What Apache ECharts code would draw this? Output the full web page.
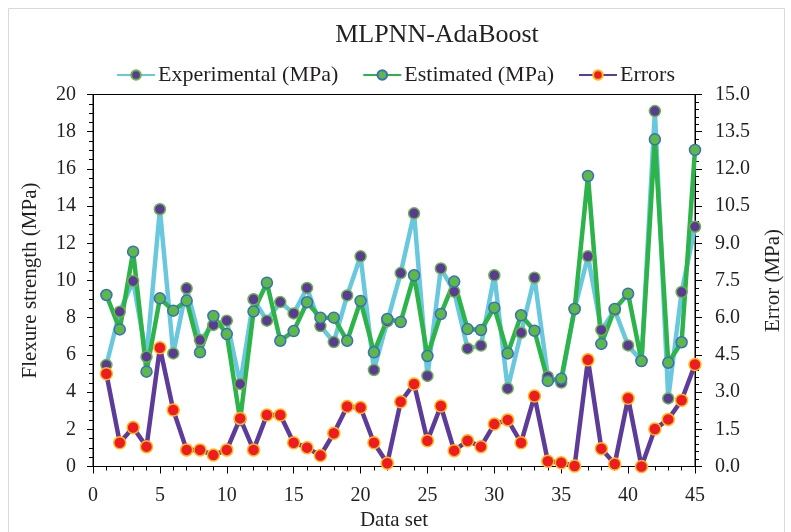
<!DOCTYPE html>
<html>
<head>
<meta charset="utf-8">
<script src="https://cdn.jsdelivr.net/npm/echarts@6/dist/echarts.min.js"></script>
<style>
  html, body { margin: 0; padding: 0; background: #fff; }
  #chart { width: 791px; height: 532px; }
</style>
</head>
<body>
<div id="chart"></div>
<script>
// Sample indices along the x axis
const dataSet = [1, 2, 3, 4, 5, 6, 7, 8, 9, 10, 11, 12, 13, 14, 15, 16, 17, 18, 19, 20,
  21, 22, 23, 24, 25, 26, 27, 28, 29, 30, 31, 32, 33, 34, 35, 36, 37, 38, 39, 40,
  41, 42, 43, 44, 45];

// Measured flexure strength (MPa)
const experimental = [5.46, 8.32, 9.97, 5.90, 13.83, 6.08, 9.58, 6.80, 7.61, 7.84,
  4.44, 8.99, 7.84, 8.84, 8.23, 9.60, 7.55, 6.69, 9.20, 11.30,
  5.19, 7.80, 10.40, 13.61, 4.87, 10.65, 9.40, 6.35, 6.50, 10.28,
  4.20, 7.19, 10.15, 4.83, 4.51, 8.47, 11.30, 7.34, 8.40, 6.51,
  5.67, 19.11, 3.66, 9.38, 12.89];

// Model output (MPa)
const estimated = [9.22, 7.37, 11.55, 5.10, 9.04, 8.38, 8.92, 6.14, 8.09, 7.12,
  2.50, 8.34, 9.88, 6.76, 7.28, 8.83, 8.00, 8.00, 6.76, 8.90,
  6.14, 7.93, 7.77, 10.28, 5.94, 8.20, 9.94, 7.39, 7.34, 8.54,
  6.08, 8.13, 7.30, 4.60, 4.72, 8.47, 15.62, 6.59, 8.47, 9.29,
  5.67, 17.59, 5.58, 6.68, 17.02];

// Absolute error (MPa), right axis
const errors = [3.74, 0.96, 1.57, 0.80, 4.79, 2.28, 0.67, 0.67, 0.46, 0.67,
  1.94, 0.67, 2.08, 2.08, 0.96, 0.76, 0.44, 1.34, 2.42, 2.38,
  0.96, 0.13, 2.61, 3.33, 1.04, 2.44, 0.64, 1.04, 0.80, 1.71,
  1.88, 0.96, 2.84, 0.21, 0.15, 0.02, 4.30, 0.72, 0.10, 2.75,
  0.00, 1.51, 1.90, 2.67, 4.11];

const leftTicks = { min: 0, max: 20, interval: 2 };
const rightTicks = { min: 0, max: 15, interval: 1.5 };
const xTicks = { min: 0, max: 45, interval: 5 };

const FONT = '"Liberation Serif", "Times New Roman", serif';
const INK = '#231f20';

const pairs = (ys) => dataSet.map((x, i) => [x, ys[i]]);

const chart = echarts.init(document.getElementById('chart'), null, { renderer: 'canvas' });

chart.setOption({
  animation: false,
  backgroundColor: '#ffffff',
  graphic: [{
    type: 'rect',
    shape: { x: 8.5, y: 8.5, width: 776, height: 540 },
    style: { fill: 'none', stroke: '#d9d9d9', lineWidth: 1 },
    z: -1
  }],
  title: {
    text: 'MLPNN-AdaBoost',
    left: 432,
    textAlign: 'center',
    top: 17,
    textStyle: { fontFamily: FONT, fontSize: 26, fontWeight: 'normal', color: INK }
  },
  legend: {
    top: 59,
    left: 'center',
    itemWidth: 38,
    itemHeight: 12,
    itemGap: 24,
    textStyle: { fontFamily: FONT, fontSize: 22, color: INK, padding: [0, 0, 0, -2] },
    data: ['Experimental (MPa)', 'Estimated (MPa)', 'Errors']
  },
  grid: {
    left: 93, right: 96, top: 94.5, bottom: 65.5,
    outerBoundsMode: 'none',
    show: true, borderColor: '#000', borderWidth: 1
  },
  xAxis: {
    type: 'value',
    min: xTicks.min, max: xTicks.max, interval: xTicks.interval,
    name: 'Data set',
    nameLocation: 'middle',
    nameGap: 42,
    nameTextStyle: { fontFamily: FONT, fontSize: 21, color: INK },
    axisLine: { show: true, onZero: false, lineStyle: { color: '#000', width: 1 } },
    axisTick: { show: true, length: 7, lineStyle: { color: '#000' } },
    minorTick: { show: true, splitNumber: 5, length: 4, lineStyle: { color: '#000' } },
    splitLine: { show: false },
    axisLabel: { fontFamily: FONT, fontSize: 20, color: INK, margin: 19 }
  },
  yAxis: [{
    type: 'value',
    min: leftTicks.min, max: leftTicks.max, interval: leftTicks.interval,
    name: 'Flexure strength (MPa)',
    nameLocation: 'middle',
    nameGap: 52,
    nameTextStyle: { fontFamily: FONT, fontSize: 21, color: INK },
    axisLine: { show: true, lineStyle: { color: '#000', width: 1 } },
    axisTick: { show: true, length: 6, lineStyle: { color: '#000' } },
    minorTick: { show: true, splitNumber: 4, length: 4, lineStyle: { color: '#000' } },
    splitLine: { show: false },
    axisLabel: { fontFamily: FONT, fontSize: 20, color: INK, margin: 17 }
  }, {
    type: 'value',
    position: 'right',
    min: rightTicks.min, max: rightTicks.max, interval: rightTicks.interval,
    name: 'Error (MPa)',
    nameLocation: 'middle',
    nameGap: 68,
    nameRotate: 90,
    nameTextStyle: { fontFamily: FONT, fontSize: 21, color: INK },
    axisLine: { show: true, lineStyle: { color: '#000', width: 1 } },
    axisTick: { show: true, length: 7, lineStyle: { color: '#000' } },
    minorTick: { show: true, splitNumber: 5, length: 4, lineStyle: { color: '#000' } },
    splitLine: { show: false },
    axisLabel: {
      fontFamily: FONT, fontSize: 20, color: INK, margin: 20,
      formatter: (v) => v.toFixed(1)
    }
  }],
  series: [{
    name: 'Experimental (MPa)',
    type: 'line',
    yAxisIndex: 0,
    data: pairs(experimental),
    symbol: 'circle',
    symbolSize: 11,
    lineStyle: { color: '#69c8dd', width: 4.5 },
    itemStyle: { color: '#5b3a93', borderColor: '#6cb34e', borderWidth: 1.5 }
  }, {
    name: 'Estimated (MPa)',
    type: 'line',
    yAxisIndex: 0,
    data: pairs(estimated),
    symbol: 'circle',
    symbolSize: 11,
    lineStyle: { color: '#2db34a', width: 4.5 },
    itemStyle: { color: '#5cb947', borderColor: '#3d6cc1', borderWidth: 1.5 }
  }, {
    name: 'Errors',
    type: 'line',
    yAxisIndex: 1,
    data: pairs(errors),
    symbol: 'circle',
    symbolSize: 12,
    lineStyle: { color: '#5d3b98', width: 4.5 },
    itemStyle: { color: '#ed1c24', borderColor: '#fcb814', borderWidth: 1.5 }
  }]
});
</script>
</body>
</html>
